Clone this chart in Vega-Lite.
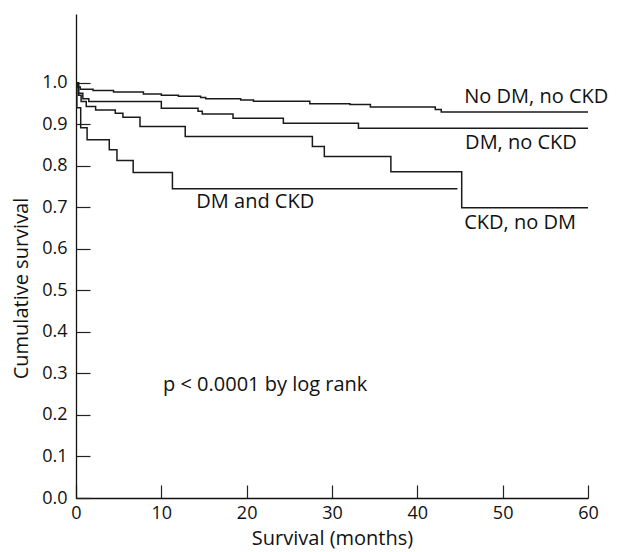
{
  "$schema": "https://vega.github.io/schema/vega-lite/v6.json",
  "width": 512,
  "height": 484,
  "autosize": {"type": "none"},
  "padding": {"left": 76, "top": 14, "right": 32, "bottom": 54},
  "background": "white",
  "config": {
    "view": {"stroke": null},
    "font": "Open Sans",
    "axis": {
      "domainColor": "#111",
      "domainWidth": 1.3,
      "tickColor": "#222",
      "tickWidth": 1.2,
      "grid": false,
      "labelFont": "Open Sans",
      "labelFontSize": 18,
      "labelColor": "#111",
      "titleFont": "Open Sans",
      "titleFontSize": 20,
      "titleFontWeight": "normal",
      "titleColor": "#111"
    }
  },
  "datasets": {
    "curves": [
      {"group": "No DM, no CKD", "month": 0, "surv": 1.0},
      {"group": "No DM, no CKD", "month": 0.2, "surv": 0.99},
      {"group": "No DM, no CKD", "month": 0.5, "surv": 0.985},
      {"group": "No DM, no CKD", "month": 2.0, "surv": 0.982},
      {"group": "No DM, no CKD", "month": 4.4, "surv": 0.978},
      {"group": "No DM, no CKD", "month": 7.9, "surv": 0.973},
      {"group": "No DM, no CKD", "month": 10.0, "surv": 0.97},
      {"group": "No DM, no CKD", "month": 12.0, "surv": 0.968},
      {"group": "No DM, no CKD", "month": 14.6, "surv": 0.965},
      {"group": "No DM, no CKD", "month": 15.2, "surv": 0.962},
      {"group": "No DM, no CKD", "month": 19.3, "surv": 0.959},
      {"group": "No DM, no CKD", "month": 20.8, "surv": 0.956},
      {"group": "No DM, no CKD", "month": 27.4, "surv": 0.95},
      {"group": "No DM, no CKD", "month": 32.1, "surv": 0.948},
      {"group": "No DM, no CKD", "month": 34.5, "surv": 0.942},
      {"group": "No DM, no CKD", "month": 42.1, "surv": 0.936},
      {"group": "No DM, no CKD", "month": 42.8, "surv": 0.93},
      {"group": "No DM, no CKD", "month": 60, "surv": 0.93},
      {"group": "DM, no CKD", "month": 0, "surv": 1.0},
      {"group": "DM, no CKD", "month": 0.3, "surv": 0.975},
      {"group": "DM, no CKD", "month": 0.8, "surv": 0.962},
      {"group": "DM, no CKD", "month": 1.5, "surv": 0.955},
      {"group": "DM, no CKD", "month": 10.0, "surv": 0.939},
      {"group": "DM, no CKD", "month": 14.3, "surv": 0.932},
      {"group": "DM, no CKD", "month": 14.8, "surv": 0.925},
      {"group": "DM, no CKD", "month": 18.4, "surv": 0.915},
      {"group": "DM, no CKD", "month": 24.3, "surv": 0.903},
      {"group": "DM, no CKD", "month": 33.1, "surv": 0.891},
      {"group": "DM, no CKD", "month": 60, "surv": 0.891},
      {"group": "CKD, no DM", "month": 0, "surv": 1.0},
      {"group": "CKD, no DM", "month": 0.3, "surv": 0.97},
      {"group": "CKD, no DM", "month": 0.6, "surv": 0.955},
      {"group": "CKD, no DM", "month": 1.2, "surv": 0.943},
      {"group": "CKD, no DM", "month": 2.3, "surv": 0.935},
      {"group": "CKD, no DM", "month": 4.6, "surv": 0.927},
      {"group": "CKD, no DM", "month": 5.5, "surv": 0.917},
      {"group": "CKD, no DM", "month": 7.5, "surv": 0.895},
      {"group": "CKD, no DM", "month": 12.8, "surv": 0.871},
      {"group": "CKD, no DM", "month": 27.7, "surv": 0.847},
      {"group": "CKD, no DM", "month": 29.1, "surv": 0.823},
      {"group": "CKD, no DM", "month": 36.9, "surv": 0.786},
      {"group": "CKD, no DM", "month": 45.2, "surv": 0.699},
      {"group": "CKD, no DM", "month": 60, "surv": 0.699},
      {"group": "DM and CKD", "month": 0, "surv": 1.0},
      {"group": "DM and CKD", "month": 0.1, "surv": 0.94},
      {"group": "DM and CKD", "month": 0.55, "surv": 0.892},
      {"group": "DM and CKD", "month": 1.3, "surv": 0.863},
      {"group": "DM and CKD", "month": 3.9, "surv": 0.839},
      {"group": "DM and CKD", "month": 4.8, "surv": 0.813},
      {"group": "DM and CKD", "month": 6.7, "surv": 0.784},
      {"group": "DM and CKD", "month": 11.3, "surv": 0.745},
      {"group": "DM and CKD", "month": 44.7, "surv": 0.745}
    ],
    "labels": [
      {"text": "No DM, no CKD", "month": 45.5, "surv": 0.966},
      {"text": "DM, no CKD", "month": 45.6, "surv": 0.855},
      {"text": "CKD, no DM", "month": 45.5, "surv": 0.663},
      {"text": "DM and CKD", "month": 14.1, "surv": 0.713},
      {"text": "p < 0.0001 by log rank", "month": 10.2, "surv": 0.272}
    ]
  },
  "layer": [
    {
      "data": {"name": "curves"},
      "mark": {"type": "line", "interpolate": "step-after", "color": "#1a1a1a", "strokeWidth": 1.5, "clip": false},
      "encoding": {
        "x": {
          "field": "month", "type": "quantitative",
          "scale": {"domain": [0, 60], "nice": false, "zero": true},
          "axis": {
            "title": "Survival (months)",
            "values": [0, 10, 20, 30, 40, 50, 60],
            "tickSize": -13,
            "labelPadding": 19,
            "titlePadding": 6,
            "labelFlush": false
          }
        },
        "y": {
          "field": "surv", "type": "quantitative",
          "scale": {"domain": [0, 1.166], "nice": false},
          "axis": {
            "title": "Cumulative survival",
            "values": [0, 0.1, 0.2, 0.3, 0.4, 0.5, 0.6, 0.7, 0.8, 0.9, 1.0],
            "format": ".1f",
            "tickSize": -14,
            "labelPadding": 23,
            "titleX": -55,
            "titleY": 274,
            "titleAlign": "center",
            "titleBaseline": "middle"
          }
        },
        "detail": {"field": "group", "type": "nominal"}
      }
    },
    {
      "data": {"name": "labels"},
      "mark": {"type": "text", "align": "left", "baseline": "middle", "font": "Open Sans", "fontSize": 20, "color": "#111"},
      "encoding": {
        "x": {"field": "month", "type": "quantitative"},
        "y": {"field": "surv", "type": "quantitative"},
        "text": {"field": "text", "type": "nominal"}
      }
    }
  ]
}
